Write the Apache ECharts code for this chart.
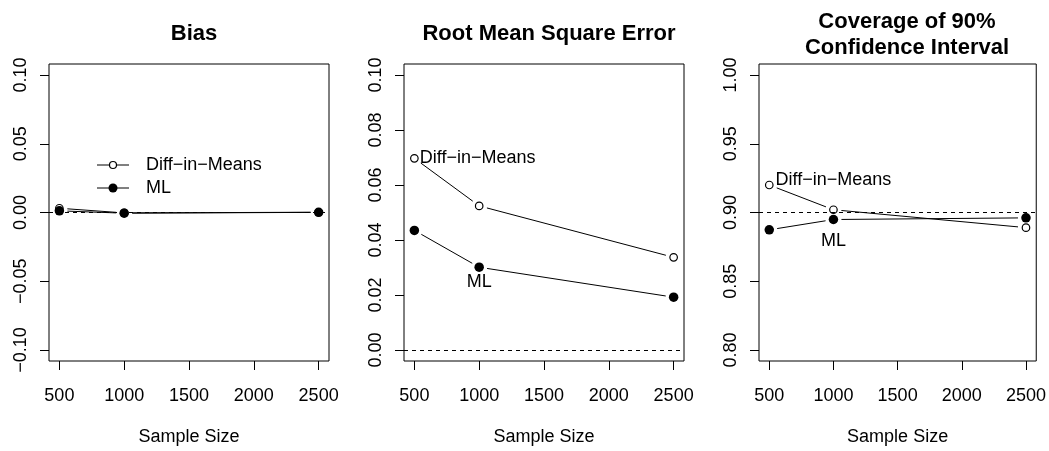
<!DOCTYPE html>
<html>
	<head>
		<meta charset="utf-8">
		<title>Bias / RMSE / Coverage</title>
		<script src="https://cdn.jsdelivr.net/npm/echarts@6/dist/echarts.min.js"></script>
		<style>
			html, body { margin: 0; padding: 0; background: #fff; }
			#main { width: 1049px; height: 451px; }
		</style>
	</head>
	<body>
		<div id="main"></div>
		<script>
			// data
			var sampleSizes = [500, 1000, 2500];
			var xTicks = [500, 1000, 1500, 2000, 2500];
			var seriesNames = ['Diff\u2212in\u2212Means', 'ML'];

			var biasDiM = [0.0031, -0.0003, 0.0002];
			var biasML = [0.0012, -0.0005, 0.0001];
			var rmseDiM = [0.0697, 0.0524, 0.0337];
			var rmseML = [0.0435, 0.0301, 0.0192];
			var covDiM = [0.920, 0.902, 0.889];
			var covML = [0.8874, 0.8949, 0.8961];

			var panelTitles = ['Bias', 'Root Mean Square Error', 'Coverage of 90%\nConfidence Interval'];
			var yTicksBias = [-0.10, -0.05, 0.00, 0.05, 0.10];
			var yTicksRmse = [0.00, 0.02, 0.04, 0.06, 0.08, 0.10];
			var yTicksCov = [0.80, 0.85, 0.90, 0.95, 1.00];
			var refLines = [0, 0, 0.90];

			var FONT = '"Liberation Sans", Arial, sans-serif';
			var GAP = 8; // gap between line and point, like R type="b"
			var gridLeft = [49, 404, 759];
			var gridW = 280, gridTop = 64, gridH = 298;

			var panels = [
				{ dim: biasDiM, ml: biasML, ticks: yTicksBias },
				{ dim: rmseDiM, ml: rmseML, ticks: yTicksRmse },
				{ dim: covDiM, ml: covML, ticks: yTicksCov }
			];

			// R style 4% axis extension
			function ext(lo, hi) {
				var d = (hi - lo) * 0.04;
				return [lo - d, hi + d];
			}

			function segments(xs, ys) {
				var out = [];
				for (var i = 0; i < xs.length - 1; i++) {
					out.push([xs[i], ys[i], xs[i + 1], ys[i + 1]]);
				}
				return out;
			}

			function renderSeg(params, api) {
				var p0 = api.coord([api.value(0), api.value(1)]);
				var p1 = api.coord([api.value(2), api.value(3)]);
				var dx = p1[0] - p0[0], dy = p1[1] - p0[1];
				var len = Math.sqrt(dx * dx + dy * dy);
				if (len <= 2 * GAP) return null;
				var ux = dx / len, uy = dy / len;
				return {
					type: 'line',
					shape: { x1: p0[0] + ux * GAP, y1: p0[1] + uy * GAP, x2: p1[0] - ux * GAP, y2: p1[1] - uy * GAP },
					style: { stroke: '#000', lineWidth: 1 }
				};
			}

			// text put next to points in panels 2 and 3
			var labelCfg = [
				null,
				{ dim: { idx: 0, position: 'right', distance: 1, offset: [0, 0] }, ml: { idx: 1, position: 'bottom', distance: 1, offset: [0, 0] } },
				{ dim: { idx: 0, position: 'right', distance: 2, offset: [0, -5] }, ml: { idx: 1, position: 'bottom', distance: 8, offset: [0, 0] } }
			];

			function pointData(ys, cfg, name) {
				return sampleSizes.map(function (x, i) {
					var item = { value: [x, ys[i]] };
					if (cfg && cfg.idx === i) {
						item.label = {
							show: true, formatter: name, position: cfg.position, distance: cfg.distance,
							offset: cfg.offset, color: '#000', fontSize: 18, fontFamily: FONT
						};
					}
					return item;
				});
			}

			var grids = [], xAxes = [], yAxes = [], series = [], titles = [];
			panels.forEach(function (p, k) {
				grids.push({
					left: gridLeft[k], top: gridTop, width: gridW, height: gridH,
					show: true, borderColor: '#000', borderWidth: 1, backgroundColor: 'transparent'
				});
				var xr = ext(500, 2500);
				xAxes.push({
					type: 'value', gridIndex: k, min: xr[0], max: xr[1],
					axisLine: { show: false, onZero: false },
					axisTick: { show: true, inside: false, customValues: xTicks, length: 9, lineStyle: { color: '#000', width: 1 } },
					axisLabel: {
						customValues: xTicks, margin: 26, color: '#000', fontSize: 18, fontFamily: FONT,
						formatter: function (v) { return String(v); }
					},
					splitLine: { show: false },
					name: 'Sample Size', nameLocation: 'middle', nameGap: 67,
					nameTextStyle: { color: '#000', fontSize: 18, fontFamily: FONT }
				});
				var yr = ext(p.ticks[0], p.ticks[p.ticks.length - 1]);
				yAxes.push({
					type: 'value', gridIndex: k, min: yr[0], max: yr[1],
					axisLine: { show: false, onZero: false },
					axisTick: { show: true, inside: false, customValues: p.ticks, length: 9, lineStyle: { color: '#000', width: 1 } },
					axisLabel: {
						customValues: p.ticks, rotate: 90, margin: 19, color: '#000', fontSize: 18, fontFamily: FONT,
						formatter: function (v) { return v.toFixed(2).replace('-', '\u2212'); }
					},
					splitLine: { show: false }
				});
				titles.push({
					text: panelTitles[k], left: gridLeft[k] + gridW / 2 + (k === 2 ? 3 : 0), textAlign: 'center',
					top: k === 2 ? 4 : 16,
					textStyle: { color: '#000', fontSize: 22, fontWeight: 'bold', fontFamily: FONT, lineHeight: 26 }
				});

				var cfg = labelCfg[k];
				// lines with gaps
				series.push({
					type: 'custom', xAxisIndex: k, yAxisIndex: k, renderItem: renderSeg,
					encode: { x: [0, 2], y: [1, 3] }, data: segments(sampleSizes, p.dim), silent: true, z: 2,
					markLine: {
						silent: true, symbol: 'none', label: { show: false },
						lineStyle: { color: '#000', width: 1, type: [4, 4], opacity: 1 },
						data: [{ yAxis: refLines[k] }]
					}
				});
				series.push({
					type: 'custom', xAxisIndex: k, yAxisIndex: k, renderItem: renderSeg,
					encode: { x: [0, 2], y: [1, 3] }, data: segments(sampleSizes, p.ml), silent: true, z: 2
				});
				// open circles, then filled circles
				series.push({
					type: 'scatter', xAxisIndex: k, yAxisIndex: k, name: seriesNames[0],
					symbol: 'circle', symbolSize: 7.5, z: 3,
					itemStyle: { color: '#fff', borderColor: '#000', borderWidth: 1.2, opacity: 1 },
					data: pointData(p.dim, cfg && cfg.dim, seriesNames[0])
				});
				series.push({
					type: 'scatter', xAxisIndex: k, yAxisIndex: k, name: seriesNames[1],
					symbol: 'circle', symbolSize: 9.5, z: 4,
					itemStyle: { color: '#000', opacity: 1 },
					data: pointData(p.ml, cfg && cfg.ml, seriesNames[1])
				});
			});

			// legend of the first panel, drawn like R's legend()
			var legendRows = [165, 188];
			var legendGraphic = [];
			seriesNames.forEach(function (name, i) {
				var y = legendRows[i];
				legendGraphic.push({ type: 'line', shape: { x1: 97, y1: y, x2: 129, y2: y }, style: { stroke: '#000', lineWidth: 1 } });
				legendGraphic.push({
					type: 'circle', shape: { cx: 113, cy: y, r: i === 0 ? 3.5 : 4.5 },
					style: i === 0 ? { fill: '#fff', stroke: '#000', lineWidth: 1.2 } : { fill: '#000' }
				});
				legendGraphic.push({
					type: 'text', x: 146, y: y,
					style: { text: name, fill: '#000', font: '18px ' + FONT, textVerticalAlign: 'middle' }
				});
			});

			var myChart = echarts.init(document.getElementById('main'));
			myChart.setOption({
				animation: false,
				backgroundColor: '#fff',
				title: titles,
				grid: grids,
				xAxis: xAxes,
				yAxis: yAxes,
				series: series,
				graphic: legendGraphic
			});
		</script>
	</body>
</html>
